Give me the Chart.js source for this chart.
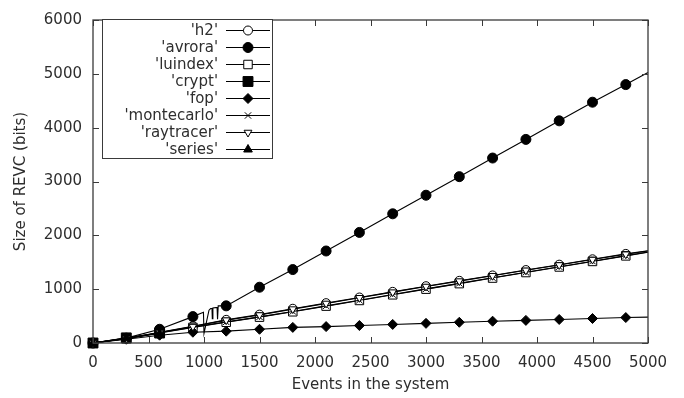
<!DOCTYPE html>
<html>
<head>
<meta charset="utf-8">
<script src="https://cdn.jsdelivr.net/npm/chart.js@4/dist/chart.umd.min.js"></script>
<style>
  html, body { margin: 0; padding: 0; background: #fff; }
  canvas { display: block; }
</style>
</head>
<body>
<canvas id="chart" width="684" height="398"></canvas>
<script>
// Events sampled every 300, last one at the right edge
var events = [0, 300, 600, 900, 1200, 1500, 1800, 2100, 2400, 2700, 3000, 3300, 3600, 3900, 4200, 4500, 4800, 5000];

// avrora has a jumpy stretch between 900 and 1200
var avroraEvents = [0, 300, 600, 900, 995, 1000, 1045, 1060, 1072, 1075, 1080, 1118, 1122, 1128, 1200, 1500, 1800, 2100, 2400, 2700, 3000, 3300, 3600, 3900, 4200, 4500, 4800, 5000];
var avroraBits = [0, 90, 255, 490, 570, 180, 610, 640, 640, 450, 650, 660, 440, 690, 690, 1036, 1364, 1709, 2054, 2400, 2745, 3090, 3436, 3782, 4127, 4473, 4800, 5025];

var h2Bits = [0, 85, 200, 310, 430, 527, 636, 740, 845, 950, 1055, 1155, 1255, 1355, 1455, 1555, 1655, 1715];
var luindexBits = [0, 80, 185, 290, 385, 480, 580, 685, 790, 895, 1000, 1103, 1206, 1309, 1412, 1515, 1618, 1685];
var fopBits = [0, 70, 145, 200, 220, 255, 290, 305, 325, 345, 365, 385, 405, 420, 437, 455, 473, 480];
var montecarloBits = [0, 82, 190, 295, 392, 485, 586, 690, 795, 900, 1005, 1108, 1211, 1314, 1417, 1520, 1623, 1690];
var raytracerBits = [0, 84, 195, 305, 425, 520, 630, 735, 840, 945, 1050, 1150, 1250, 1350, 1450, 1550, 1650, 1710];
var cryptEvents = [0, 300, 600];
var cryptBits = [0, 95, 185];
var seriesEvents = [0, 300, 600];
var seriesBits = [0, 90, 175];

var yTicks = [0, 1000, 2000, 3000, 4000, 5000, 6000];
var xTicks = [0, 500, 1000, 1500, 2000, 2500, 3000, 3500, 4000, 4500, 5000];

var ink = '#000';
var axisColor = '#3a3a3a';
var textColor = '#2e2e2e';

function pairs(xs, ys) {
  return xs.map((x, i) => ({x: x, y: ys[i]}));
}

// markers only every 300 events, like gnuplot's point interval
function markerRadius(r) {
  return (c) => {
    var p = c.raw;
    return (p && p.x % 300 === 0 && p.x < 5000) ? r : 0;
  };
}

function series(label, data, style, r, filled, rot) {
  return {
    label: label,
    data: data,
    borderColor: ink,
    borderWidth: 1.1,
    pointStyle: style,
    pointRotation: rot || 0,
    pointRadius: markerRadius(r),
    pointHoverRadius: 0,
    pointBorderWidth: 1,
    pointBorderColor: ink,
    pointBackgroundColor: filled ? ink : '#fff',
    tension: 0,
    fill: false,
    clip: false
  };
}

var datasets = [
  series("'series'", pairs(seriesEvents, seriesBits), 'triangle', 5, true),
  series("'raytracer'", pairs(events, raytracerBits), 'triangle', 4.5, false, 180),
  series("'montecarlo'", pairs(events, montecarloBits), 'crossRot', 4.5, false),
  series("'fop'", pairs(events, fopBits), 'rectRot', 5, true),
  series("'crypt'", pairs(cryptEvents, cryptBits), 'rect', 7, true),
  series("'luindex'", pairs(events, luindexBits), 'rect', 6, false),
  series("'avrora'", pairs(avroraEvents, avroraBits), 'circle', 5, true),
  series("'h2'", pairs(events, h2Bits), 'circle', 4.5, false)
];

// legend order as drawn by gnuplot
var legendOrder = ["'h2'", "'avrora'", "'luindex'", "'crypt'", "'fop'", "'montecarlo'", "'raytracer'", "'series'"];

function drawMarker(ctx, ds, x, y) {
  var r = ds.pointRadius({raw: {x: 0}});
  ctx.save();
  ctx.lineWidth = 1;
  ctx.strokeStyle = ink;
  ctx.fillStyle = ds.pointBackgroundColor;
  ctx.beginPath();
  var s;
  switch (ds.pointStyle) {
    case 'circle':
      ctx.arc(x, y, r, 0, Math.PI * 2);
      break;
    case 'rect':
      s = r * Math.SQRT1_2;
      ctx.rect(x - s, y - s, 2 * s, 2 * s);
      break;
    case 'rectRot':
      ctx.moveTo(x - r, y); ctx.lineTo(x, y - r); ctx.lineTo(x + r, y); ctx.lineTo(x, y + r); ctx.closePath();
      break;
    case 'crossRot':
      s = r * Math.SQRT1_2;
      ctx.moveTo(x - s, y - s); ctx.lineTo(x + s, y + s);
      ctx.moveTo(x + s, y - s); ctx.lineTo(x - s, y + s);
      ctx.stroke();
      ctx.restore();
      return;
    case 'triangle':
      var dir = ds.pointRotation === 180 ? -1 : 1;
      ctx.moveTo(x, y - dir * r);
      ctx.lineTo(x + r * 0.866, y + dir * r * 0.5);
      ctx.lineTo(x - r * 0.866, y + dir * r * 0.5);
      ctx.closePath();
      break;
  }
  ctx.fill();
  ctx.stroke();
  ctx.restore();
}

var frame = {
  id: 'frame',
  afterDatasetsDraw(chart) {
    var ctx = chart.ctx;
    var a = chart.chartArea;
    var xs = chart.scales.x, ys = chart.scales.y;
    ctx.save();
    ctx.strokeStyle = axisColor;
    ctx.lineWidth = 1.3;
    ctx.strokeRect(a.left, a.top, a.right - a.left, a.bottom - a.top);
    ctx.lineWidth = 1;
    ctx.beginPath();
    xTicks.forEach(v => {
      var px = Math.round(xs.getPixelForValue(v)) + 0.5;
      ctx.moveTo(px, a.bottom); ctx.lineTo(px, a.bottom - 6);
      ctx.moveTo(px, a.top); ctx.lineTo(px, a.top + 6);
    });
    yTicks.forEach(v => {
      var py = Math.round(ys.getPixelForValue(v)) + 0.5;
      ctx.moveTo(a.left, py); ctx.lineTo(a.left + 6, py);
      ctx.moveTo(a.right, py); ctx.lineTo(a.right - 6, py);
    });
    ctx.stroke();

    // legend box
    var bx = 102, by = 19, bw = 170, bh = 139;
    ctx.fillStyle = '#fff';
    ctx.fillRect(bx, by, bw, bh);
    ctx.strokeStyle = axisColor;
    ctx.strokeRect(bx + 0.5, by + 0.5, bw, bh);
    ctx.font = '15px "DejaVu Sans"';
    ctx.textAlign = 'right';
    ctx.textBaseline = 'middle';
    legendOrder.forEach((name, i) => {
      var ds = chart.data.datasets.find(d => d.label === name);
      var y = 30 + i * 17;
      ctx.fillStyle = textColor;
      ctx.fillText(name, 218, y + 1);
      ctx.strokeStyle = ink;
      ctx.lineWidth = 1.1;
      ctx.beginPath();
      ctx.moveTo(226, y + 0.5); ctx.lineTo(270, y + 0.5);
      ctx.stroke();
      drawMarker(ctx, ds, 248, y + 0.5);
    });
    ctx.restore();
  }
};

var tickFont = {family: 'DejaVu Sans', size: 15};

new Chart(document.getElementById('chart'), {
  type: 'line',
  data: {datasets: datasets},
  plugins: [frame],
  options: {
    responsive: false,
    animation: false,
    devicePixelRatio: 1,
    layout: {padding: {top: 13, right: 36, left: 0, bottom: 0}},
    plugins: {legend: {display: false}, tooltip: {enabled: false}},
    scales: {
      x: {
        type: 'linear',
        min: 0, max: 5000,
        afterFit: (s) => { s.height = 55; },
        afterBuildTicks: (s) => { s.ticks = xTicks.map(v => ({value: v})); },
        grid: {display: false, drawTicks: false},
        border: {display: false},
        ticks: {font: tickFont, color: textColor, padding: 11, maxRotation: 0, callback: (v) => String(v)},
        title: {display: true, text: 'Events in the system', font: tickFont, color: textColor, padding: {bottom: 4}}
      },
      y: {
        type: 'linear',
        min: 0, max: 6000,
        afterFit: (s) => { s.width = 93; },
        afterBuildTicks: (s) => { s.ticks = yTicks.map(v => ({value: v})); },
        grid: {display: false, drawTicks: false},
        border: {display: false},
        ticks: {font: tickFont, color: textColor, padding: 11, callback: (v) => String(v)},
        title: {display: true, text: 'Size of REVC (bits)', font: tickFont, color: textColor, padding: {top: 12}}
      }
    }
  }
});
</script>
</body>
</html>
